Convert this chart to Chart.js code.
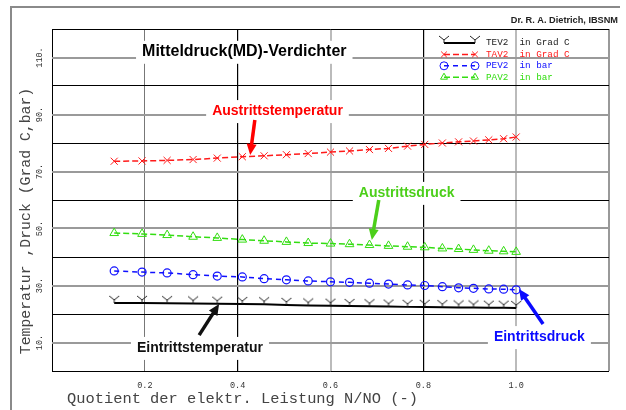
<!DOCTYPE html>
<html>
<head>
<meta charset="utf-8">
<script src="https://cdn.jsdelivr.net/npm/chart.js@4.4.1/dist/chart.umd.min.js"></script>
<style>
  body { margin: 0; background: #fff; }
  canvas { display: block; }
</style>
</head>
<body>
<canvas id="mdChart" width="626" height="410"></canvas>
<script>
// Werte
const xValues = [0.134, 0.194, 0.248, 0.304, 0.356, 0.410, 0.457, 0.505, 0.552, 0.600, 0.641,
                 0.684, 0.725, 0.766, 0.803, 0.841, 0.876, 0.908, 0.941, 0.973, 1.0];
const tev2 = [23.9, 23.9, 23.8, 23.7, 23.6, 23.5, 23.4, 23.2, 23.0, 22.9, 22.8,
              22.7, 22.6, 22.5, 22.5, 22.4, 22.3, 22.3, 22.2, 22.2, 22.1];
const tav2 = [73.6, 73.7, 73.9, 74.2, 74.7, 75.2, 75.5, 75.9, 76.3, 76.8, 77.2,
              77.7, 78.1, 78.9, 79.5, 80.0, 80.4, 80.7, 81.1, 81.5, 82.1];
const pev2 = [35.1, 34.7, 34.4, 33.8, 33.3, 33.0, 32.4, 32.0, 31.6, 31.3, 31.1,
              30.8, 30.5, 30.2, 30.0, 29.6, 29.2, 29.0, 28.8, 28.7, 28.5];
const pav2 = [48.4, 48.1, 47.7, 47.1, 46.7, 46.1, 45.7, 45.3, 44.9, 44.7, 44.5,
              44.2, 43.9, 43.6, 43.4, 43.0, 42.8, 42.5, 42.2, 42.0, 41.8];

const seriesNames = ['TEV2  in Grad C', 'TAV2  in Grad C', 'PEV2  in bar', 'PAV2  in bar'];
const xTickValues = [0.2, 0.4, 0.6, 0.8, 1.0];
const xTickLabels = ['0.2', '0.4', '0.6', '0.8', '1.0'];
const yTickValues = [10, 30, 50, 70, 90, 110];
const yTickLabels = ['10.', '30.', '50.', '70.', '90.', '110.'];

// Beschriftungen im Diagramm: Text, Position (Datenkoordinaten), Pfeil von/bis
const notes = [
  { text: 'Austrittstemperatur', color: '#ff0000', x: 0.345, y: 91.2, from: [0.437, 88.1], to: [0.427, 75.8] },
  { text: 'Austrittsdruck', color: '#4ccf1a', x: 0.661, y: 62.5, from: [0.704, 60.0], to: [0.689, 46.0] },
  { text: 'Eintrittstemperatur', color: '#111111', x: 0.183, y: 8.1, from: [0.317, 12.6], to: [0.360, 23.5] },
  { text: 'Eintrittsdruck', color: '#0a0aff', x: 0.952, y: 11.9, from: [1.058, 16.5], to: [1.006, 28.8] }
];

function yMarker(color) {
  const c = document.createElement('canvas');
  c.width = 12; c.height = 16;
  const g = c.getContext('2d');
  g.strokeStyle = color;
  g.lineWidth = 1;
  g.beginPath();
  g.moveTo(1, 1); g.lineTo(6, 5); g.lineTo(11, 1);
  g.moveTo(6, 5); g.lineTo(6, 8);
  g.stroke();
  return c;
}

function pts(ys) {
  return xValues.map((x, i) => ({ x: x, y: ys[i] }));
}

const clear = 'rgba(0,0,0,0)';
const datasets = [
  { label: seriesNames[0], data: pts(tev2), borderColor: '#000', borderWidth: 2,
    pointStyle: yMarker('#222'), pointRadius: 5, pointBorderColor: '#222', pointBackgroundColor: clear },
  { label: seriesNames[1], data: pts(tav2), borderColor: '#ff1a1a', borderWidth: 1.5, borderDash: [6, 3],
    pointStyle: 'crossRot', pointRadius: 5, pointBorderColor: '#ff1a1a', pointBorderWidth: 1, pointBackgroundColor: clear },
  { label: seriesNames[2], data: pts(pev2), borderColor: '#1010ff', borderWidth: 1.5, borderDash: [5, 4],
    pointStyle: 'circle', pointRadius: 4, pointBorderColor: '#1010ff', pointBorderWidth: 1.2, pointBackgroundColor: clear },
  { label: seriesNames[3], data: pts(pav2), borderColor: '#33dd11', borderWidth: 1.5, borderDash: [6, 3],
    pointStyle: 'triangle', pointRadius: 5, pointBorderColor: '#33dd11', pointBorderWidth: 1, pointBackgroundColor: clear }
];

function arrow(ctx, x1, y1, x2, y2, color) {
  const a = Math.atan2(y2 - y1, x2 - x1);
  const hl = 11, hw = 5;
  ctx.save();
  ctx.strokeStyle = color;
  ctx.fillStyle = color;
  ctx.lineWidth = 3.5;
  ctx.setLineDash([]);
  ctx.beginPath();
  ctx.moveTo(x1, y1);
  ctx.lineTo(x2 - Math.cos(a) * hl * 0.8, y2 - Math.sin(a) * hl * 0.8);
  ctx.stroke();
  ctx.beginPath();
  ctx.moveTo(x2, y2);
  ctx.lineTo(x2 - Math.cos(a) * hl + Math.sin(a) * hw, y2 - Math.sin(a) * hl - Math.cos(a) * hw);
  ctx.lineTo(x2 - Math.cos(a) * hl - Math.sin(a) * hw, y2 - Math.sin(a) * hl + Math.cos(a) * hw);
  ctx.closePath();
  ctx.fill();
  ctx.restore();
}

function boxedText(ctx, text, x, y, color, font) {
  ctx.font = font;
  const w = ctx.measureText(text).width;
  ctx.fillStyle = '#fff';
  ctx.fillRect(x - 6, y - 11, w + 12, 23);
  ctx.fillStyle = color;
  ctx.textAlign = 'left';
  ctx.textBaseline = 'middle';
  ctx.fillText(text, x, y);
}

const decor = {
  id: 'decor',
  beforeDraw(chart) {
    const ctx = chart.ctx;
    ctx.save();
    ctx.fillStyle = '#fff';
    ctx.fillRect(0, 0, chart.width, chart.height);
    ctx.strokeStyle = '#8a8a8a';
    ctx.lineWidth = 2;
    ctx.beginPath();
    ctx.moveTo(11, 410); ctx.lineTo(11, 7); ctx.lineTo(620, 7);
    ctx.stroke();
    ctx.restore();
  },
  afterDraw(chart) {
    const ctx = chart.ctx;
    const xs = chart.scales.x, ys = chart.scales.y;
    const area = chart.chartArea;
    ctx.save();

    // Achsenbeschriftung
    ctx.fillStyle = '#333';
    ctx.font = '8.5px "Liberation Mono"';
    ctx.textAlign = 'center';
    ctx.textBaseline = 'middle';
    xTickValues.forEach((v, i) => ctx.fillText(xTickLabels[i], xs.getPixelForValue(v), area.bottom + 15));
    yTickValues.forEach((v, i) => {
      ctx.save();
      ctx.translate(area.left - 12, ys.getPixelForValue(v));
      ctx.rotate(-Math.PI / 2);
      ctx.fillText(yTickLabels[i], 0, 0);
      ctx.restore();
    });
    ctx.fillStyle = '#444';
    ctx.font = '15.4px "Liberation Mono"';
    ctx.textAlign = 'left';
    ctx.fillText('Quotient der elektr. Leistung N/NO (-)', 67, 399);
    ctx.save();
    ctx.translate(26, 221);
    ctx.rotate(-Math.PI / 2);
    ctx.textAlign = 'center';
    ctx.font = '14.8px "Liberation Mono"';
    ctx.fillText('Temperatur ,Druck (Grad C,bar)', 0, 0);
    ctx.restore();

    // Titel und Autor
    boxedText(ctx, 'Mitteldruck(MD)-Verdichter', xs.getPixelForValue(0.194), ys.getPixelForValue(112), '#000', 'bold 16px "Liberation Sans"');
    ctx.fillStyle = '#222';
    ctx.font = 'bold 9.2px "Liberation Sans"';
    ctx.textAlign = 'right';
    ctx.textBaseline = 'middle';
    ctx.fillText('Dr. R. A. Dietrich, IBSNM', 618, 20);

    // Pfeile und Bezeichnungen
    notes.forEach(n => {
      boxedText(ctx, n.text, xs.getPixelForValue(n.x), ys.getPixelForValue(n.y), n.color, 'bold 14px "Liberation Sans"');
      arrow(ctx, xs.getPixelForValue(n.from[0]), ys.getPixelForValue(n.from[1]),
            xs.getPixelForValue(n.to[0]), ys.getPixelForValue(n.to[1]), n.color);
    });

    // Legende
    chart.data.datasets.forEach((ds, i) => {
      const y = 43 + i * 11.4;
      const x1 = 444, x2 = 475;
      ctx.save();
      ctx.strokeStyle = ds.borderColor;
      ctx.lineWidth = ds.borderWidth;
      ctx.setLineDash(ds.borderDash || []);
      ctx.beginPath();
      ctx.moveTo(x1, y); ctx.lineTo(x2, y);
      ctx.stroke();
      ctx.setLineDash([]);
      ctx.strokeStyle = ds.pointBorderColor;
      ctx.fillStyle = clear;
      ctx.lineWidth = 1;
      [x1, x2].forEach(px => Chart.helpers.drawPoint(ctx,
        { pointStyle: ds.pointStyle, radius: 4, rotation: 0, borderWidth: 1 }, px, y));
      ctx.restore();
      ctx.fillStyle = i === 0 ? '#222' : ds.borderColor;
      ctx.font = '9.3px "Liberation Mono"';
      ctx.textAlign = 'left';
      ctx.textBaseline = 'middle';
      ctx.fillText(ds.label, 486, y);
    });
    ctx.restore();
  }
};

function xGridColor(c) {
  const k = Math.round(c.tick.value * 5);
  return ['#000', '#777', '#000', '#bbb', '#000', '#bbb', '#999'][k] || '#000';
}
function xGridWidth(c) {
  const k = Math.round(c.tick.value * 5);
  return [1, 1, 1.2, 2, 1.2, 2, 2][k] || 1;
}
function yGridColor(c) {
  const v = Math.round(c.tick.value);
  return v % 20 === 10 ? '#9a9a9a' : '#000';
}
function yGridWidth(c) {
  const v = Math.round(c.tick.value);
  return v % 20 === 10 ? 2 : 1;
}

new Chart(document.getElementById('mdChart').getContext('2d'), {
  type: 'line',
  data: { datasets: datasets },
  options: {
    responsive: false,
    animation: false,
    devicePixelRatio: 1,
    layout: { padding: { left: 52, top: 29, right: 17, bottom: 39 } },
    plugins: { legend: { display: false }, tooltip: { enabled: false } },
    scales: {
      x: {
        type: 'linear', min: 0, max: 1.2,
        ticks: { display: false, stepSize: 0.2 },
        grid: { drawTicks: false, color: xGridColor, lineWidth: xGridWidth },
        border: { display: false }
      },
      y: {
        type: 'linear', min: 0, max: 120,
        ticks: { display: false, stepSize: 10 },
        grid: { drawTicks: false, color: yGridColor, lineWidth: yGridWidth },
        border: { display: false }
      }
    }
  },
  plugins: [decor]
});
</script>
</body>
</html>
